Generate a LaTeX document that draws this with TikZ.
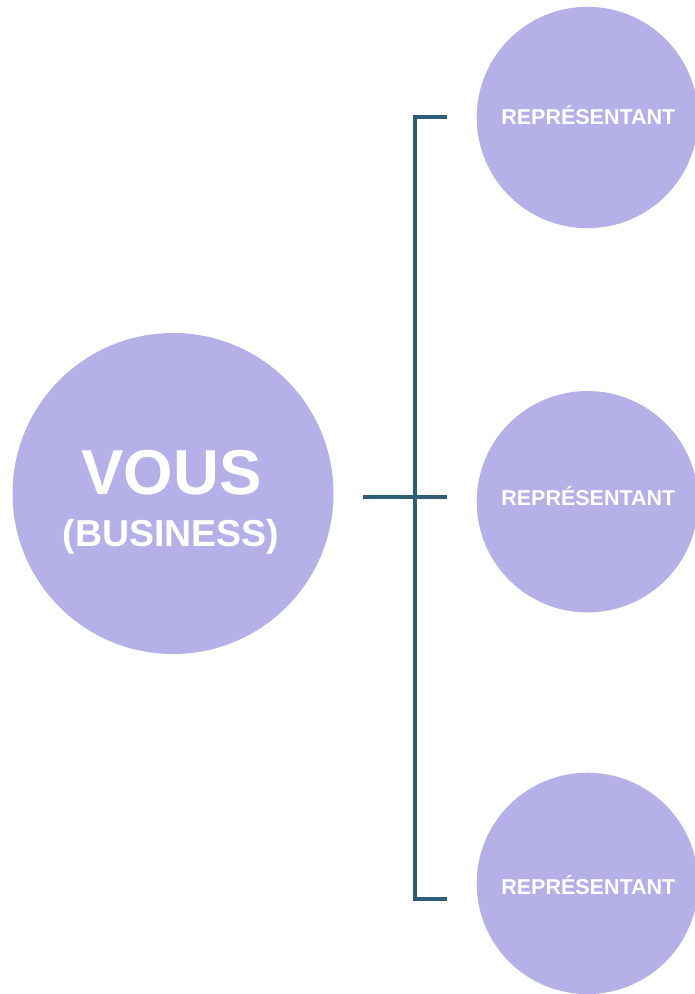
\documentclass[tikz,border=0pt]{standalone}
\usepackage{fontspec}
\setmainfont{Liberation Sans}
\usepackage{tikz}
\usetikzlibrary{positioning}
\definecolor{discfill}{HTML}{B5B0E7}
\definecolor{bracketline}{HTML}{2E5D75}

\begin{document}
\begin{tikzpicture}[x=1pt,y=-1pt]
	\useasboundingbox (0,0) rectangle (694,994);
	\begin{scope}[every node/.style={circle, fill=discfill, inner sep=0pt}]
		\node[minimum size=321pt] (vous) at (173,493.5) {};
		\node[minimum size=221.4pt] (rep1) at (587.4,117.5) {};
		\node[minimum size=221.4pt] (rep2) at (587.4,501.7) {};
		\node[minimum size=221.4pt] (rep3) at (587.4,883.4) {};
	\end{scope}

	\begin{scope}[every node/.style={text=white, inner sep=0pt, anchor=base}]
		\node[font=\bfseries\fontsize{63.5}{64}\selectfont] (vousText) at (171.5,494) {VOUS};
		\node[font=\bfseries\fontsize{37.5}{38}\selectfont] (businessText) at (171,546) {(BUSINESS)};
		\node[font=\bfseries\fontsize{21.5}{22}\selectfont] (rep1Text) at (588.3,124) {REPRÉSENTANT};
		\node[font=\bfseries\fontsize{21.5}{22}\selectfont] (rep2Text) at (588.3,505.7) {REPRÉSENTANT};
		\node[font=\bfseries\fontsize{21.5}{22}\selectfont] (rep3Text) at (588.3,894.3) {REPRÉSENTANT};
	\end{scope}

	\begin{scope}[every path/.style={draw=bracketline, line width=4pt}]
		\coordinate (topEnd) at (447,117);
		\coordinate (topCorner) at (415,117);
		\coordinate (botCorner) at (415,899);
		\coordinate (botEnd) at (447,899);
		\coordinate (midIn) at (363,497);
		\coordinate (midOut) at (447,497);
		\draw (topEnd) -- (topCorner) -- (botCorner) -- (botEnd);
		\draw (midIn) -- (midOut);
	\end{scope}
\end{tikzpicture}
\end{document}
